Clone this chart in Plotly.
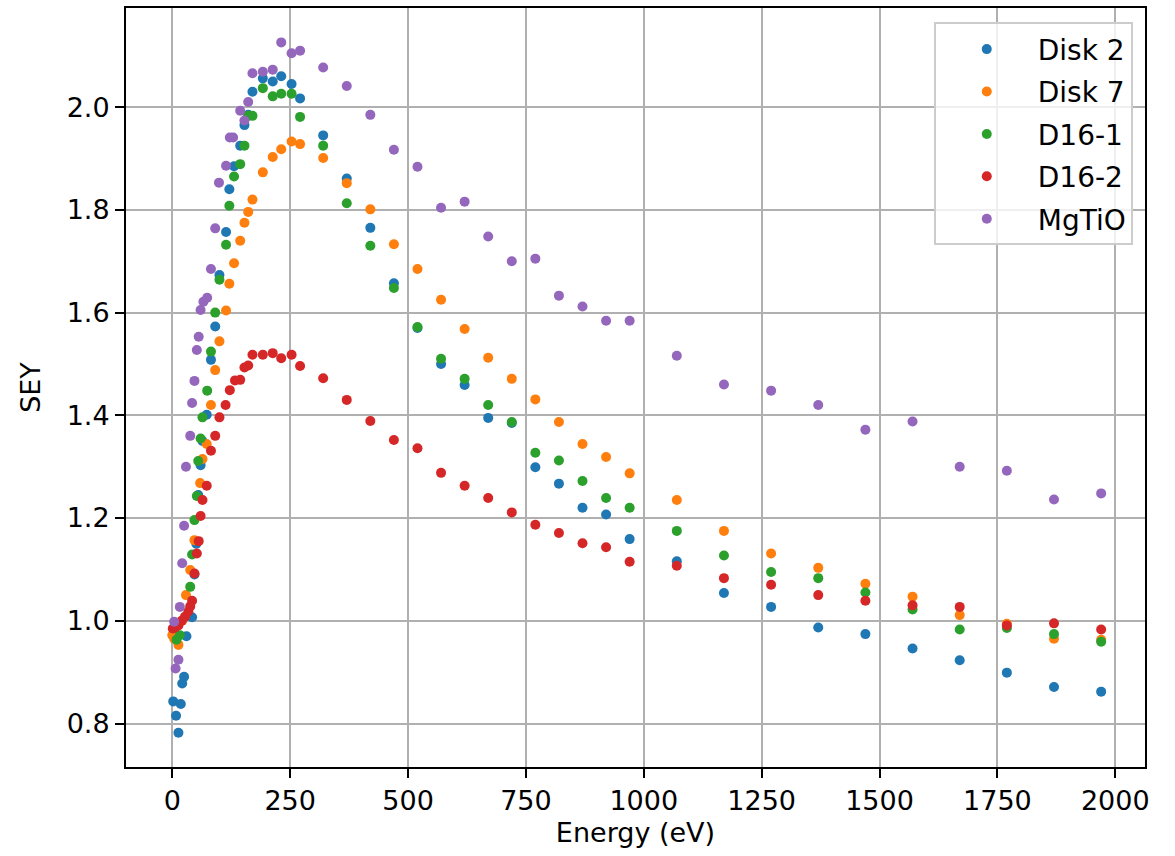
import plotly.graph_objects as go

# ---- data ----
energy_high = [320, 370, 420, 470, 520, 570, 620, 670, 720, 770, 820, 870, 920, 970,
               1070, 1170, 1270, 1370, 1470, 1570, 1670, 1770, 1870, 1970]

disk2_energy_low = [2, 8, 13, 18, 21, 25, 30, 42, 47, 51, 55, 60, 64, 73, 82, 91, 100,
                    114, 121, 131, 144, 153, 161, 170, 192, 213, 231, 253, 271]
disk2_sey = [0.843, 0.815, 0.782, 0.838, 0.878, 0.891, 0.970, 1.007, 1.09, 1.15, 1.245, 1.303,
             1.35, 1.401, 1.508, 1.573, 1.673, 1.757, 1.840, 1.885, 1.925, 1.965, 1.985, 2.030,
             2.056, 2.050, 2.060, 2.045, 2.017,
             1.945, 1.861, 1.765, 1.657, 1.570, 1.500, 1.459, 1.395, 1.385, 1.299, 1.267, 1.220,
             1.207, 1.159, 1.116, 1.054, 1.027, 0.987, 0.974, 0.946, 0.923, 0.899, 0.871, 0.862]

disk7_energy_low = [0, 4, 13, 21, 29, 38, 47, 59, 64, 73, 82, 91, 100, 114, 121, 131, 144,
                    153, 161, 170, 192, 213, 231, 253, 271]
disk7_sey = [0.972, 0.965, 0.953, 1.0, 1.050, 1.099, 1.157, 1.268, 1.315, 1.344, 1.420, 1.488,
             1.544, 1.604, 1.656, 1.696, 1.740, 1.775, 1.796, 1.820, 1.873, 1.903, 1.918, 1.933,
             1.928,
             1.901, 1.852, 1.801, 1.733, 1.685, 1.625, 1.568, 1.512, 1.471, 1.431, 1.387, 1.344,
             1.319, 1.287, 1.235, 1.175, 1.131, 1.103, 1.072, 1.047, 1.011, 0.994, 0.965, 0.963]

d161_energy_low = [9, 16, 38, 42, 47, 52, 55, 60, 64, 74, 82, 91, 100, 114, 121, 131, 144,
                   153, 161, 170, 192, 213, 231, 253, 271]
d161_sey = [0.963, 0.972, 1.066, 1.129, 1.196, 1.243, 1.311, 1.355, 1.396, 1.448, 1.524, 1.600,
            1.664, 1.732, 1.808, 1.865, 1.889, 1.925, 1.983, 1.983, 2.037, 2.021, 2.026, 2.026,
            1.981,
            1.925, 1.813, 1.730, 1.648, 1.572, 1.510, 1.471, 1.420, 1.387, 1.327, 1.312, 1.272,
            1.239, 1.220, 1.175, 1.127, 1.095, 1.083, 1.055, 1.022, 0.983, 0.986, 0.974, 0.959]

d162_energy_low = [1, 6, 13, 20, 27, 34, 38, 42, 47, 52, 56, 60, 64, 73, 82, 91, 100, 113,
                   122, 133, 144, 153, 161, 170, 192, 213, 231, 253, 271]
d162_sey = [0.985, 0.987, 0.991, 1.000, 1.008, 1.018, 1.028, 1.039, 1.092, 1.131, 1.155, 1.204,
            1.235, 1.263, 1.331, 1.360, 1.396, 1.420, 1.449, 1.468, 1.469, 1.493, 1.497, 1.518,
            1.518, 1.521, 1.511, 1.518, 1.496,
            1.472, 1.430, 1.389, 1.352, 1.336, 1.288, 1.263, 1.239, 1.211, 1.187, 1.171, 1.151,
            1.143, 1.115, 1.107, 1.083, 1.070, 1.050, 1.039, 1.030, 1.027, 0.991, 0.995, 0.983]

mgtio_energy_low = [4, 7, 13, 16, 21, 25, 29, 38, 42, 47, 52, 56, 60, 66, 74, 82, 91, 99,
                    114, 122, 129, 144, 153, 161, 170, 192, 213, 231, 253, 271]
mgtio_sey = [0.998, 0.907, 0.924, 1.027, 1.112, 1.185, 1.300, 1.360, 1.424, 1.467, 1.527, 1.553,
             1.605, 1.621, 1.629, 1.685, 1.764, 1.853, 1.886, 1.941, 1.941, 1.993, 1.974, 2.010,
             2.066, 2.069, 2.073, 2.126, 2.105, 2.110,
             2.077, 2.041, 1.985, 1.917, 1.884, 1.804, 1.816, 1.748, 1.700, 1.705, 1.633, 1.612,
             1.584, 1.584, 1.516, 1.460, 1.448, 1.420, 1.372, 1.388, 1.300, 1.292, 1.236, 1.248]

series_names = ["Disk 2", "Disk 7", "D16-1", "D16-2", "MgTiO"]
series_colors = ["#1f77b4", "#ff7f0e", "#2ca02c", "#d62728", "#9467bd"]
series_data = [
    (disk2_energy_low + energy_high, disk2_sey),
    (disk7_energy_low + energy_high, disk7_sey),
    (d161_energy_low + energy_high, d161_sey),
    (d162_energy_low + energy_high, d162_sey),
    (mgtio_energy_low + energy_high, mgtio_sey),
]

x_ticks = [0, 250, 500, 750, 1000, 1250, 1500, 1750, 2000]
y_ticks = [0.8, 1.0, 1.2, 1.4, 1.6, 1.8, 2.0]

FONT = "DejaVu Sans"
FS = 27

fig = go.Figure()
for i, (name, color, (ex, ey)) in enumerate(zip(series_names, series_colors, series_data)):
    fig.add_trace(go.Scatter(
        x=ex, y=ey, mode="markers", name=name,
        legendgroup=f"g{i}",
        marker=dict(color=color, size=10, line=dict(width=0)),
    ))

axis_common = dict(
    showgrid=True, gridcolor="#b0b0b0", gridwidth=2,
    zeroline=False,
    showline=True, linecolor="black", linewidth=2, mirror=True,
    ticks="outside", ticklen=9, tickwidth=2, tickcolor="black",
    tickfont=dict(family=FONT, size=FS, color="black"),
)

fig.update_layout(
    width=1175, height=856,
    paper_bgcolor="white", plot_bgcolor="white",
    margin=dict(l=126, r=30, t=8, b=89, autoexpand=False),
    font=dict(family=FONT, size=FS, color="black"),
    xaxis=dict(
        range=[-98.2, 2063], tickvals=x_ticks, ticktext=[str(v) for v in x_ticks],
        title=dict(text="Energy (eV)", font=dict(family=FONT, size=FS, color="black"), standoff=8),
        automargin=False,
        **axis_common,
    ),
    yaxis=dict(
        range=[0.7153, 2.193], tickvals=y_ticks, ticktext=[f"{v:.1f}" for v in y_ticks],
        title=dict(text="SEY", font=dict(family=FONT, size=FS, color="black"), standoff=18),
        automargin=False,
        **axis_common,
    ),
    legend=dict(
        x=0.988, y=0.981, xanchor="right", yanchor="top",
        bgcolor="rgba(255,255,255,0.8)", bordercolor="#cccccc", borderwidth=2,
        font=dict(family=FONT, size=28, color="black"),
        tracegroupgap=3, itemwidth=92,
    ),
    showlegend=True,
)

fig.write_html("out.html")
